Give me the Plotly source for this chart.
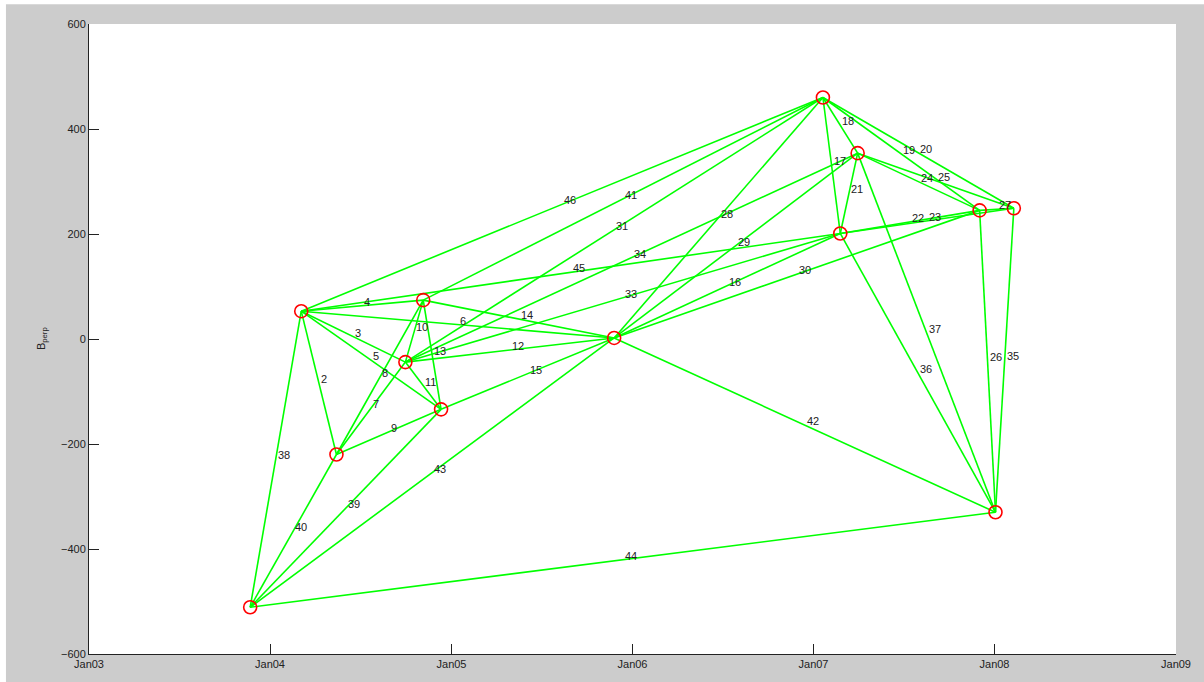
import plotly.graph_objects as go
import pandas as pd

# Acquisition nodes (date, perpendicular baseline in m)
node_names = ["A", "B", "C", "D", "E", "F", "G", "H", "I", "J", "K", "L", "M"]
node_dates = ["2004-03-04", "2004-11-05", "2004-09-30", "2004-12-11", "2004-05-14",
              "2003-11-22", "2005-11-25", "2007-01-20", "2007-03-31", "2007-02-24",
              "2007-12-02", "2008-02-09", "2008-01-03"]
node_bperp = [53, 74, -44, -134, -220, -511, 2, 460, 354, 201, 245, 249, -330]

# Interferometric pairs (start node, end node) and their labels
pair_start = ["A", "A", "A", "A", "A", "E", "E", "E", "B", "C", "C", "B", "B", "D",
              "G", "H", "H", "H", "H", "I", "J", "J", "I", "I", "K", "K",
              "G", "G", "G", "C", "C", "C", "L", "J", "I",
              "F", "F", "F", "B", "G", "F", "F", "A", "A"]
pair_end = ["E", "C", "B", "D", "G", "C", "B", "D", "C", "D", "G", "D", "G", "G",
            "J", "J", "I", "K", "L", "J", "K", "L", "K", "L", "M", "L",
            "H", "I", "K", "H", "J", "I", "M", "M", "M",
            "A", "D", "E", "H", "M", "G", "M", "J", "H"]
pair_label = ["2", "3", "4", "5", "6", "7", "8", "9", "10", "11", "12", "13", "14", "15",
              "16", "17", "18", "19", "20", "21", "22", "23", "24", "25", "26", "27",
              "28", "29", "30", "31", "33", "34", "35", "36", "37",
              "38", "39", "40", "41", "42", "43", "44", "45", "46"]

x_tick_vals = ["2003-01-01", "2004-01-01", "2005-01-01", "2006-01-01",
               "2007-01-01", "2008-01-01", "2009-01-01"]
x_tick_text = ["Jan03", "Jan04", "Jan05", "Jan06", "Jan07", "Jan08", "Jan09"]
y_tick_vals = [-600, -400, -200, 0, 200, 400, 600]

nd = {n: (pd.Timestamp(d), b) for n, d, b in zip(node_names, node_dates, node_bperp)}

lx, ly = [], []
annotations = []
for s, e, lab in zip(pair_start, pair_end, pair_label):
    (d1, b1), (d2, b2) = nd[s], nd[e]
    lx += [d1, d2, None]
    ly += [b1, b2, None]
    mid_d = d1 + (d2 - d1) / 2
    mid_b = (b1 + b2) / 2
    annotations.append(dict(x=mid_d, y=mid_b, text=lab, showarrow=False,
                            xanchor="left", yanchor="middle", yshift=4,
                            font=dict(family="Liberation Sans, Arial", size=11, color="#222222")))

fig = go.Figure()
fig.add_trace(go.Scatter(x=lx, y=ly, mode="lines",
                         line=dict(color="#00ff00", width=1.6),
                         hoverinfo="skip", showlegend=False))
fig.add_trace(go.Scatter(x=[nd[n][0] for n in node_names], y=[nd[n][1] for n in node_names],
                         mode="markers",
                         marker=dict(symbol="circle-open", size=13, color="#ff0000",
                                     line=dict(width=1.6, color="#ff0000")),
                         showlegend=False))

annotations.append(dict(xref="paper", yref="paper", x=-0.0432, y=0.5,
                        text="B<sub>perp</sub>", textangle=-90, showarrow=False,
                        xanchor="center", yanchor="middle",
                        font=dict(family="Liberation Sans, Arial", size=11, color="#222222")))

fig.update_layout(
    width=1204, height=682,
    margin=dict(l=89, r=28, t=24, b=24),
    paper_bgcolor="#cccccc", plot_bgcolor="#ffffff",
    annotations=annotations,
    shapes=[
        dict(type="rect", xref="paper", yref="paper", x0=-0.09, x1=-0.0764, y0=-0.05, y1=1.05,
             fillcolor="#ffffff", line=dict(width=0), layer="above"),
        dict(type="rect", xref="paper", yref="paper", x0=-0.09, x1=1.03, y0=1.0315, y1=1.05,
             fillcolor="#ffffff", line=dict(width=0), layer="above"),
    ],
    xaxis=dict(type="date", range=["2003-01-01", "2009-01-01"],
               tickvals=x_tick_vals, ticktext=x_tick_text,
               ticks="inside", ticklen=10, tickcolor="#222222",
               showline=True, linecolor="#222222", linewidth=1,
               showgrid=False, zeroline=False,
               tickfont=dict(family="Liberation Sans, Arial", size=11, color="#222222")),
    yaxis=dict(range=[-600, 600], tickvals=y_tick_vals,
               ticks="inside", ticklen=10, tickcolor="#222222",
               showline=True, linecolor="#222222", linewidth=1,
               showgrid=False, zeroline=False,
               tickfont=dict(family="Liberation Sans, Arial", size=11, color="#222222")),
)

fig.write_html("out.html")
